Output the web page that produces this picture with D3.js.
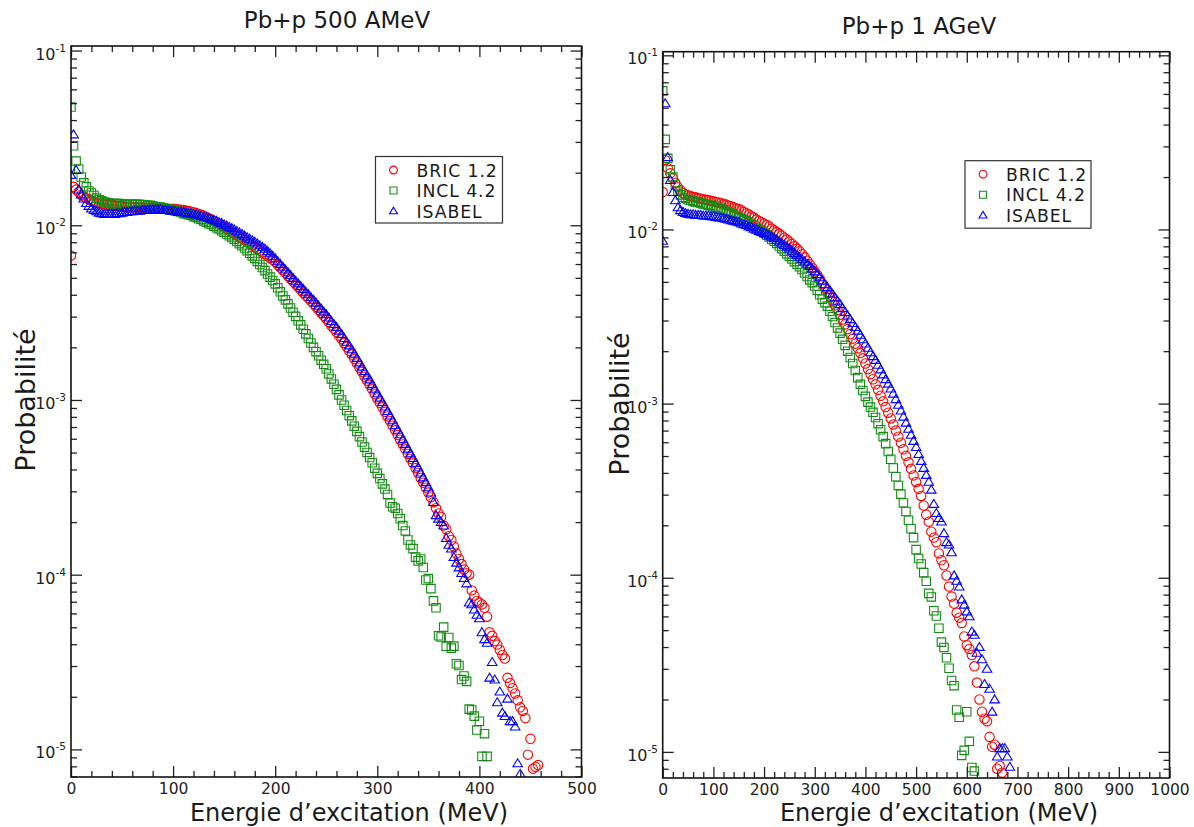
<!DOCTYPE html>
<html><head><meta charset="utf-8">
<script src="https://cdn.jsdelivr.net/npm/d3@7"></script>
<style>body{margin:0;background:#fff}</style>
</head><body>
<svg id="chart" width="1194" height="827"></svg>
<script>
// ---------------- DATA ----------------
const seriesNames = ["BRIC 1.2", "INCL 4.2", "ISABEL"];
const titles = ["Pb+p 500 AMeV", "Pb+p 1 AGeV"];
const xLabel = "Energie d\u2019excitation (MeV)";
const yLabel = "Probabilit\u00e9";
const xTicksLeft = [0, 100, 200, 300, 400, 500];
const xTicksRight = [0, 100, 200, 300, 400, 500, 600, 700, 800, 900, 1000];
const yDecades = [-1, -2, -3, -4, -5];
const binLeft = 2.5;   // MeV per point, 500 AMeV panel
const binRight = 5;    // MeV per point, 1 AGeV panel

const bricLeft = [
6.7e-3,1.66e-2,1.60e-2,1.55e-2,1.49e-2,1.46e-2,1.43e-2,1.41e-2,1.38e-2,1.36e-2,
1.35e-2,1.34e-2,1.33e-2,1.32e-2,1.31e-2,1.31e-2,1.30e-2,1.30e-2,1.29e-2,1.29e-2,
1.28e-2,1.28e-2,1.27e-2,1.28e-2,1.27e-2,1.27e-2,1.27e-2,1.26e-2,1.27e-2,1.26e-2,
1.26e-2,1.26e-2,1.26e-2,1.25e-2,1.25e-2,1.25e-2,1.25e-2,1.24e-2,1.24e-2,1.24e-2,
1.245e-2,1.239e-2,1.233e-2,1.227e-2,1.222e-2,1.213e-2,1.205e-2,1.197e-2,1.189e-2,1.175e-2,
1.161e-2,1.148e-2,1.135e-2,1.117e-2,1.096e-2,1.079e-2,1.059e-2,1.038e-2,1.019e-2,9.98e-3,
9.77e-3,9.55e-3,9.33e-3,9.14e-3,8.94e-3,8.76e-3,8.58e-3,8.40e-3,8.22e-3,8.04e-3,
7.85e-3,7.67e-3,7.50e-3,7.33e-3,7.16e-3,7.00e-3,6.84e-3,6.67e-3,6.50e-3,6.34e-3,
6.17e-3,5.94e-3,5.73e-3,5.52e-3,5.32e-3,5.13e-3,4.94e-3,4.76e-3,4.59e-3,4.43e-3,
4.27e-3,4.11e-3,3.96e-3,3.82e-3,3.68e-3,3.55e-3,3.41e-3,3.28e-3,3.15e-3,3.03e-3,
2.92e-3,2.79e-3,2.67e-3,2.56e-3,2.45e-3,2.34e-3,2.23e-3,2.12e-3,2.01e-3,1.91e-3,
1.82e-3,1.72e-3,1.62e-3,1.53e-3,1.45e-3,1.36e-3,1.29e-3,1.22e-3,1.15e-3,1.08e-3,
1.02e-3,9.64e-4,9.08e-4,8.55e-4,8.05e-4,7.59e-4,7.13e-4,6.70e-4,6.30e-4,5.92e-4,
5.56e-4,5.22e-4,4.91e-4,4.61e-4,4.34e-4,4.07e-4,3.82e-4,3.58e-4,3.36e-4,3.15e-4,
2.95e-4,2.77e-4,2.60e-4,2.40e-4,2.24e-4,2.14e-4,1.91e-4,1.82e-4,1.66e-4,1.58e-4,
1.45e-4,1.32e-4,1.23e-4,1.15e-4,1.07e-4,1.02e-4,1.00e-4,8.13e-5,7.59e-5,7.08e-5,
6.92e-5,6.76e-5,6.46e-5,5.75e-5,4.68e-5,4.47e-5,4.17e-5,3.98e-5,3.72e-5,3.47e-5,
3.31e-5,2.57e-5,2.40e-5,2.24e-5,2.09e-5,1.91e-5,1.74e-5,1.66e-5,1.51e-5,9.33e-6,
1.15e-5,7.76e-6,7.94e-6,8.13e-6];

const inclLeft = [
4.75e-2,2.85e-2,2.33e-2,2.10e-2,1.89e-2,1.75e-2,1.66e-2,1.57e-2,1.53e-2,1.48e-2,
1.43e-2,1.40e-2,1.38e-2,1.36e-2,1.35e-2,1.34e-2,1.33e-2,1.33e-2,1.33e-2,1.33e-2,
1.32e-2,1.32e-2,1.32e-2,1.32e-2,1.32e-2,1.32e-2,1.32e-2,1.32e-2,1.31e-2,1.31e-2,
1.30e-2,1.30e-2,1.29e-2,1.28e-2,1.27e-2,1.27e-2,1.26e-2,1.25e-2,1.24e-2,1.23e-2,
1.22e-2,1.21e-2,1.20e-2,1.19e-2,1.17e-2,1.16e-2,1.15e-2,1.14e-2,1.12e-2,1.11e-2,
1.09e-2,1.08e-2,1.06e-2,1.04e-2,1.02e-2,1.01e-2,9.89e-3,9.68e-3,9.51e-3,9.31e-3,
9.12e-3,8.91e-3,8.71e-3,8.51e-3,8.32e-3,8.09e-3,7.85e-3,7.64e-3,7.41e-3,7.16e-3,
6.92e-3,6.68e-3,6.46e-3,6.21e-3,5.96e-3,5.73e-3,5.50e-3,5.26e-3,5.05e-3,4.83e-3,
4.62e-3,4.39e-3,4.16e-3,3.94e-3,3.74e-3,3.55e-3,3.36e-3,3.18e-3,3.01e-3,2.84e-3,
2.69e-3,2.54e-3,2.39e-3,2.25e-3,2.12e-3,2.00e-3,1.89e-3,1.79e-3,1.69e-3,1.60e-3,
1.51e-3,1.41e-3,1.32e-3,1.23e-3,1.15e-3,1.07e-3,1.00e-3,9.33e-4,8.71e-4,8.13e-4,
7.59e-4,7.08e-4,6.61e-4,6.17e-4,5.75e-4,5.37e-4,5.01e-4,4.68e-4,4.37e-4,4.07e-4,
3.80e-4,3.55e-4,3.31e-4,3.09e-4,2.88e-4,2.57e-4,2.45e-4,2.40e-4,2.24e-4,2.09e-4,
1.91e-4,1.78e-4,1.58e-4,1.48e-4,1.41e-4,1.26e-4,1.20e-4,1.23e-4,1.10e-4,9.33e-5,
9.50e-5,8.32e-5,7.08e-5,6.46e-5,4.47e-5,4.40e-5,5.01e-5,3.89e-5,4.37e-5,3.80e-5,
3.90e-5,3.09e-5,3.02e-5,2.51e-5,2.63e-5,2.45e-5,1.70e-5,1.68e-5,1.55e-5,1.29e-5,
1.45e-5,9.12e-6,1.23e-5,9.12e-6];

const isabelLeft = [
1.94e-2,3.31e-2,2.07e-2,1.60e-2,1.50e-2,1.42e-2,1.34e-2,1.29e-2,1.245e-2,1.22e-2,
1.20e-2,1.18e-2,1.17e-2,1.16e-2,1.16e-2,1.16e-2,1.16e-2,1.16e-2,1.17e-2,1.17e-2,
1.18e-2,1.19e-2,1.19e-2,1.20e-2,1.20e-2,1.21e-2,1.21e-2,1.21e-2,1.22e-2,1.22e-2,
1.22e-2,1.23e-2,1.23e-2,1.23e-2,1.23e-2,1.23e-2,1.22e-2,1.22e-2,1.22e-2,1.21e-2,
1.21e-2,1.20e-2,1.19e-2,1.19e-2,1.19e-2,1.18e-2,1.17e-2,1.17e-2,1.16e-2,1.15e-2,
1.14e-2,1.13e-2,1.12e-2,1.11e-2,1.10e-2,1.08e-2,1.07e-2,1.06e-2,1.04e-2,1.03e-2,
1.01e-2,9.95e-3,9.77e-3,9.62e-3,9.44e-3,9.25e-3,9.08e-3,8.89e-3,8.71e-3,8.53e-3,
8.36e-3,8.20e-3,8.04e-3,7.85e-3,7.67e-3,7.50e-3,7.33e-3,7.10e-3,6.90e-3,6.68e-3,
6.46e-3,6.22e-3,6.00e-3,5.78e-3,5.57e-3,5.37e-3,5.18e-3,4.99e-3,4.81e-3,4.64e-3,
4.48e-3,4.32e-3,4.16e-3,4.02e-3,3.87e-3,3.74e-3,3.60e-3,3.46e-3,3.33e-3,3.20e-3,
3.09e-3,2.96e-3,2.83e-3,2.72e-3,2.61e-3,2.49e-3,2.38e-3,2.26e-3,2.15e-3,2.05e-3,
1.95e-3,1.84e-3,1.74e-3,1.64e-3,1.55e-3,1.46e-3,1.38e-3,1.31e-3,1.23e-3,1.16e-3,
1.09e-3,1.03e-3,9.73e-4,9.17e-4,8.63e-4,8.14e-4,7.64e-4,7.18e-4,6.75e-4,6.35e-4,
5.96e-4,5.60e-4,5.26e-4,4.94e-4,4.65e-4,4.36e-4,4.10e-4,3.84e-4,3.60e-4,3.38e-4,
3.16e-4,2.95e-4,2.60e-4,2.19e-4,2.09e-4,2.00e-4,1.91e-4,1.62e-4,1.48e-4,1.41e-4,
1.26e-4,1.17e-4,1.10e-4,1.02e-4,9.55e-5,8.91e-5,6.92e-5,6.76e-5,6.31e-5,5.89e-5,
5.62e-5,4.68e-5,4.27e-5,4.07e-5,2.57e-5,3.16e-5,2.51e-5,1.86e-5,2.14e-5,1.62e-5,
1.55e-5,1.95e-5,1.45e-5,1.45e-5,1.35e-5,8.32e-6,7.24e-6];

const bricRight = [
1.64e-2,2.50e-2,2.25e-2,2.10e-2,1.97e-2,1.85e-2,1.75e-2,1.68e-2,1.62e-2,1.59e-2,
1.57e-2,1.55e-2,1.54e-2,1.53e-2,1.51e-2,1.50e-2,1.49e-2,1.48e-2,1.47e-2,1.46e-2,
1.45e-2,1.44e-2,1.43e-2,1.42e-2,1.40e-2,1.39e-2,1.37e-2,1.36e-2,1.34e-2,1.32e-2,
1.31e-2,1.29e-2,1.26e-2,1.24e-2,1.22e-2,1.19e-2,1.17e-2,1.14e-2,1.12e-2,1.10e-2,
1.08e-2,1.06e-2,1.04e-2,1.01e-2,9.89e-3,9.66e-3,9.44e-3,9.20e-3,8.97e-3,8.75e-3,
8.51e-3,8.26e-3,8.00e-3,7.74e-3,7.50e-3,7.21e-3,6.92e-3,6.61e-3,6.31e-3,6.03e-3,
5.75e-3,5.47e-3,5.19e-3,4.90e-3,4.62e-3,4.37e-3,4.12e-3,3.89e-3,3.67e-3,3.45e-3,
3.24e-3,3.04e-3,2.85e-3,2.68e-3,2.51e-3,2.36e-3,2.21e-3,2.08e-3,1.95e-3,1.82e-3,
1.70e-3,1.58e-3,1.48e-3,1.38e-3,1.29e-3,1.20e-3,1.11e-3,1.03e-3,9.55e-4,8.87e-4,
8.22e-4,7.59e-4,7.00e-4,6.46e-4,5.96e-4,5.47e-4,5.01e-4,4.60e-4,4.22e-4,3.87e-4,
3.55e-4,3.24e-4,2.95e-4,2.60e-4,2.30e-4,2.10e-4,1.84e-4,1.70e-4,1.60e-4,1.38e-4,
1.26e-4,1.18e-4,1.03e-4,8.9e-5,7.8e-5,7.1e-5,6.3e-5,5.9e-5,5.5e-5,4.6e-5,
4.1e-5,3.9e-5,3.6e-5,3.1e-5,2.5e-5,2.0e-5,1.7e-5,1.55e-5,1.5e-5,1.22e-5,
1.07e-5,1.1e-5,8.0e-6,8.3e-6,7.6e-6];

const inclRight = [
6.25e-2,3.29e-2,2.56e-2,2.20e-2,2.00e-2,1.80e-2,1.66e-2,1.58e-2,1.53e-2,1.51e-2,
1.48e-2,1.47e-2,1.45e-2,1.44e-2,1.43e-2,1.42e-2,1.40e-2,1.39e-2,1.38e-2,1.37e-2,
1.35e-2,1.34e-2,1.32e-2,1.31e-2,1.29e-2,1.27e-2,1.25e-2,1.24e-2,1.22e-2,1.19e-2,
1.17e-2,1.15e-2,1.135e-2,1.12e-2,1.10e-2,1.07e-2,1.05e-2,1.02e-2,1.00e-2,9.80e-3,
9.55e-3,9.29e-3,9.04e-3,8.79e-3,8.55e-3,8.32e-3,8.04e-3,7.76e-3,7.50e-3,7.24e-3,
7.00e-3,6.76e-3,6.53e-3,6.31e-3,6.10e-3,5.89e-3,5.62e-3,5.37e-3,5.13e-3,4.95e-3,
4.73e-3,4.47e-3,4.22e-3,3.98e-3,3.80e-3,3.63e-3,3.39e-3,3.16e-3,2.92e-3,2.72e-3,
2.54e-3,2.34e-3,2.16e-3,2.00e-3,1.84e-3,1.70e-3,1.55e-3,1.41e-3,1.29e-3,1.19e-3,
1.10e-3,1.02e-3,9.55e-4,8.91e-4,8.32e-4,7.67e-4,7.08e-4,6.46e-4,5.89e-4,5.31e-4,
4.79e-4,4.27e-4,3.80e-4,3.39e-4,3.02e-4,2.69e-4,2.40e-4,2.14e-4,1.91e-4,1.70e-4,
1.45e-4,1.29e-4,1.20e-4,1.07e-4,9.55e-5,8.13e-5,7.76e-5,6.46e-5,6.03e-5,5.13e-5,
4.27e-5,3.98e-5,3.47e-5,3.02e-5,2.57e-5,2.40e-5,1.74e-5,1.58e-5,9.55e-6,1.02e-5,
1.70e-5,1.15e-5,8.13e-6,7.76e-6];

const isabelRight = [
8.6e-3,5.3e-2,2.6e-2,1.92e-2,1.64e-2,1.47e-2,1.34e-2,1.29e-2,1.26e-2,1.24e-2,
1.23e-2,1.22e-2,1.22e-2,1.21e-2,1.21e-2,1.21e-2,1.20e-2,1.20e-2,1.20e-2,1.19e-2,
1.19e-2,1.18e-2,1.17e-2,1.17e-2,1.16e-2,1.15e-2,1.14e-2,1.13e-2,1.12e-2,1.11e-2,
1.10e-2,1.08e-2,1.07e-2,1.06e-2,1.04e-2,1.03e-2,1.01e-2,9.95e-3,9.80e-3,9.65e-3,
9.55e-3,9.38e-3,9.23e-3,9.08e-3,8.91e-3,8.71e-3,8.51e-3,8.32e-3,8.13e-3,7.94e-3,
7.76e-3,7.55e-3,7.33e-3,7.13e-3,6.92e-3,6.73e-3,6.53e-3,6.35e-3,6.17e-3,5.96e-3,
5.75e-3,5.53e-3,5.31e-3,5.07e-3,4.84e-3,4.66e-3,4.47e-3,4.27e-3,4.07e-3,3.89e-3,
3.72e-3,3.53e-3,3.35e-3,3.20e-3,3.05e-3,2.90e-3,2.75e-3,2.62e-3,2.48e-3,2.34e-3,
2.21e-3,2.09e-3,1.97e-3,1.87e-3,1.78e-3,1.67e-3,1.57e-3,1.47e-3,1.38e-3,1.30e-3,
1.22e-3,1.14e-3,1.06e-3,9.84e-4,9.12e-4,8.41e-4,7.76e-4,7.16e-4,6.61e-4,6.10e-4,
5.62e-4,5.13e-4,4.68e-4,4.27e-4,3.89e-4,3.55e-4,3.20e-4,2.65e-4,2.35e-4,2.20e-4,
2.10e-4,1.80e-4,1.60e-4,1.55e-4,1.40e-4,1.03e-4,9.6e-5,8.9e-5,7.5e-5,7.0e-5,
6.4e-5,6.0e-5,4.9e-5,4.7e-5,3.7e-5,4.0e-5,3.4e-5,2.45e-5,3.0e-5,2.3e-5,
1.7e-5,2.0e-5,9.4e-6,1.05e-5,1.05e-5,1.05e-5,9.4e-6,8.2e-6];

// ---------------- LAYOUT / STYLE ----------------
const colors = ["#ff0000", "#128c12", "#0000ff"];
const FONT = "'DejaVu Sans', 'Liberation Sans', sans-serif";
const shapes = [
  r => `M${r},0A${r},${r} 0 1,1 ${-r},0A${r},${r} 0 1,1 ${r},0Z`,
  r => { const h = r * 0.9; return `M${-h},${-h}H${h}V${h}H${-h}Z`; },
  r => `M0,${-r*0.98}L${r*1.02},${r*0.72}H${-r*1.02}Z`
];

const panels = [
  { title: titles[0], series: [bricLeft, inclLeft, isabelLeft], bin: binLeft, xMax: 500, xTicks: xTicksLeft,
    yDomain: [6.95e-6, 0.1062], x0: 71, x1: 581.5, y0: 46, y1: 777, titleX: 337, titleY: 28,
    xLabelX: 349, yLabelX: 35, yLabelY: 400, tickLabelX: 66, legend: { x: 375.5, y: 156.5, w: 127, h: 66.5 },
    clip: [0, 596] },
  { title: titles[1], series: [bricRight, inclRight, isabelRight], bin: binRight, xMax: 1000, xTicks: xTicksRight,
    yDomain: [7.08e-6, 0.1049], x0: 662.7, x1: 1169.5, y0: 51.7, y1: 778, titleX: 919, titleY: 34,
    xLabelX: 939, yLabelX: 629, yLabelY: 404, tickLabelX: 658, legend: { x: 965, y: 160.7, w: 126, h: 67.5 },
    clip: [598, 1194] }
];

const svg = d3.select("#chart");
const defs = svg.append("defs");

panels.forEach((p, i) => {
  const x = d3.scaleLinear().domain([0, p.xMax]).range([p.x0, p.x1]);
  const y = d3.scaleLog().domain(p.yDomain).range([p.y1, p.y0]);

  defs.append("clipPath").attr("id", "panel" + i).append("rect")
    .attr("x", p.clip[0]).attr("y", 0).attr("width", p.clip[1] - p.clip[0]).attr("height", 827);
  defs.append("clipPath").attr("id", "plot" + i).append("rect")
    .attr("x", p.x0).attr("y", p.y0).attr("width", p.x1 - p.x0).attr("height", p.y1 - p.y0);

  const g = svg.append("g").attr("clip-path", `url(#panel${i})`);

  // data markers
  const plot = g.append("g").attr("clip-path", `url(#plot${i})`);
  p.series.forEach((vals, s) => {
    const pts = vals.map((v, k) => ({ e: k * p.bin, v })).filter(d => d.v > 0);
    plot.append("g").selectAll("path").data(pts).join("path")
      .attr("transform", d => `translate(${x(d.e)},${y(d.v)})`)
      .attr("d", shapes[s](4.7))
      .attr("fill", "none").attr("stroke", colors[s]).attr("stroke-width", 1.1);
  });

  // ticks
  const majorX = p.xTicks;
  const minorX = d3.range(0, p.xMax + 0.001, 20).filter(v => !majorX.includes(v));
  const majorY = yDecades.map(k => Math.pow(10, k));
  const minorY = [];
  for (let k = -6; k <= 0; k++) for (let m = 2; m <= 9; m++) {
    const v = m * Math.pow(10, k);
    if (v > p.yDomain[0] && v < p.yDomain[1]) minorY.push(v);
  }
  const styleAxis = a => {
    a.select(".domain").remove();
    a.selectAll(".tick line").attr("stroke", "#222").attr("stroke-width", 1.3);
  };
  const axes = [
    [d3.axisBottom(x).tickValues(majorX).tickSize(-11).tickPadding(6).tickFormat(d3.format("d")), `translate(0,${p.y1})`],
    [d3.axisBottom(x).tickValues(minorX).tickSize(-6).tickFormat(""), `translate(0,${p.y1})`],
    [d3.axisTop(x).tickValues(majorX).tickSize(-11).tickFormat(""), `translate(0,${p.y0})`],
    [d3.axisTop(x).tickValues(minorX).tickSize(-6).tickFormat(""), `translate(0,${p.y0})`],
    [d3.axisLeft(y).tickValues(majorY).tickSize(-11).tickFormat(""), `translate(${p.x0},0)`],
    [d3.axisLeft(y).tickValues(minorY).tickSize(-6).tickFormat(""), `translate(${p.x0},0)`],
    [d3.axisRight(y).tickValues(majorY).tickSize(-11).tickFormat(""), `translate(${p.x1},0)`],
    [d3.axisRight(y).tickValues(minorY).tickSize(-6).tickFormat(""), `translate(${p.x1},0)`]
  ];
  axes.forEach(([ax, tr], j) => {
    const ag = g.append("g").attr("transform", tr).call(ax).call(styleAxis);
    if (j === 0) {
      ag.attr("font-family", FONT).attr("font-size", 15.5);
      ag.selectAll(".tick text").attr("fill", "#222");
    }
  });

  // frame
  g.append("rect").attr("x", p.x0).attr("y", p.y0).attr("width", p.x1 - p.x0).attr("height", p.y1 - p.y0)
    .attr("fill", "none").attr("stroke", "#111").attr("stroke-width", 1.6);

  // y tick labels 10^k
  yDecades.forEach(k => {
    const t = g.append("text").attr("x", p.tickLabelX).attr("y", y(Math.pow(10, k)) + 9)
      .attr("text-anchor", "end").attr("font-family", FONT).attr("fill", "#222");
    t.append("tspan").attr("font-size", 16).text("10");
    t.append("tspan").attr("font-size", 10.5).attr("dy", -8).text(String(k));
  });

  // titles
  g.append("text").attr("x", p.titleX).attr("y", p.titleY).attr("text-anchor", "middle")
    .attr("font-family", FONT).attr("font-size", 23).attr("fill", "#1a1a1a").text(p.title);
  g.append("text").attr("x", p.xLabelX).attr("y", 821).attr("text-anchor", "middle")
    .attr("font-family", FONT).attr("font-size", 24).attr("fill", "#1a1a1a").text(xLabel);
  g.append("text").attr("transform", `translate(${p.yLabelX},${p.yLabelY}) rotate(-90)`)
    .attr("text-anchor", "middle").attr("font-family", FONT).attr("font-size", 27)
    .attr("fill", "#1a1a1a").text(yLabel);

  // legend
  const L = p.legend;
  const lg = g.append("g");
  lg.append("rect").attr("x", L.x).attr("y", L.y).attr("width", L.w).attr("height", L.h)
    .attr("fill", "#fff").attr("stroke", "#333").attr("stroke-width", 1.2);
  seriesNames.forEach((name, s) => {
    lg.append("path").attr("transform", `translate(${L.x + 18},${L.y + 13.5 + 20.5 * s})`)
      .attr("d", shapes[s](3.9)).attr("fill", "none").attr("stroke", colors[s]).attr("stroke-width", 1.1);
    lg.append("text").attr("x", L.x + 41).attr("y", L.y + 20 + 20.5 * s)
      .attr("font-family", FONT).attr("font-size", 17.3).attr("letter-spacing", 0.9)
      .attr("fill", "#1a1a1a").text(name);
  });
});
</script>
</body></html>
